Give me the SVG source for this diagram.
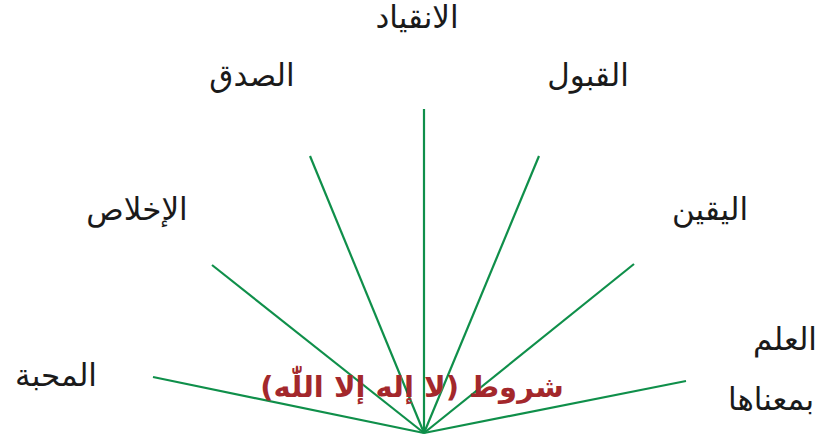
<svg xmlns="http://www.w3.org/2000/svg" width="828" height="439" viewBox="0 0 828 439">
<style>
.lbl{font-family:"DejaVu Sans","Noto Sans",sans-serif;font-size:31px;fill:#1a1a1a;text-anchor:middle}
.title{font-family:"DejaVu Sans","Noto Sans",sans-serif;font-size:29px;font-weight:bold;fill:#a3282c;text-anchor:middle}
.ln{stroke:#0f8f4a;stroke-width:2.2;fill:none}
</style>
<rect width="828" height="439" fill="#ffffff"/>
<g id="connectors">
<line class="ln" x1="424" y1="433" x2="153" y2="377"/>
<line class="ln" x1="424" y1="433" x2="212" y2="265"/>
<line class="ln" x1="424" y1="433" x2="310" y2="156"/>
<line class="ln" x1="424" y1="433" x2="424" y2="109"/>
<line class="ln" x1="424" y1="433" x2="539" y2="156"/>
<line class="ln" x1="424" y1="433" x2="634" y2="264"/>
<line class="ln" x1="424" y1="433" x2="686" y2="381"/>
</g>
<g id="n-inqiyad"><text class="lbl" x="417" y="28" direction="rtl">الانقياد</text></g>
<g id="n-sidq"><text class="lbl" x="252" y="86" direction="rtl">الصدق</text></g>
<g id="n-qabul"><text class="lbl" x="588" y="86" direction="rtl">القبول</text></g>
<g id="n-ikhlas"><text class="lbl" x="137" y="220" direction="rtl">الإخلاص</text></g>
<g id="n-yaqin"><text class="lbl" x="710" y="220" direction="rtl">اليقين</text></g>
<g id="n-ilm"><text class="lbl" x="785" y="350" direction="rtl">العلم</text><text class="lbl" x="771" y="410" direction="rtl">بمعناها</text></g>
<g id="n-mahabba"><text class="lbl" x="56" y="386" direction="rtl">المحبة</text></g>
<g id="n-title"><text class="title" x="412" y="397" direction="rtl">شروط (لا إله إلا اللّٰه)</text></g>
</svg>
